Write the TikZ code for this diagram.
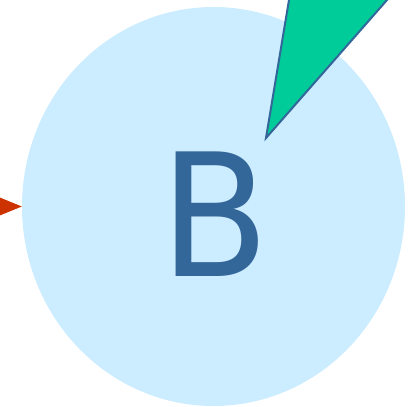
\documentclass[tikz,border=0pt]{standalone}
\usepackage{fontspec}
\setmainfont{DejaVu Sans}
\usetikzlibrary{shapes.geometric,positioning,calc}
\definecolor{bubbleblue}{RGB}{204,236,255}
\definecolor{letterblue}{RGB}{51,102,153}
\definecolor{pointgreen}{RGB}{0,204,153}
\definecolor{arrowred}{RGB}{204,51,0}

\begin{document}
\begin{tikzpicture}[
        x=1pt, y=1pt,
        bubble/.style={ellipse, fill=bubbleblue, inner sep=0pt, minimum width=383pt, minimum height=399pt},
        letter/.style={inner sep=0pt, text=letterblue, xscale=0.93, font=\fontsize{171}{171}\selectfont},
        pointer/.style={fill=pointgreen, draw=letterblue, line width=2pt, line join=miter}
    ]
        \useasboundingbox (0,0) rectangle (410,407);

        % Bubble and letter
        \node[bubble] (B) at (213.5,200.5) {};
        \node[letter] (Btext) at (215,192.5) {B};

        % Pointer
        \coordinate (tip) at (266,269);
        \filldraw[pointer] (tip) -- ($(tip)!1.2!(289,407)$) -- ($(tip)!1.2!(387,407)$) -- cycle;

        % Incoming arrowhead
        \fill[arrowred] (B.west) -- ++(-22,9) -- ++(0,-18) -- cycle;
    \end{tikzpicture}
\end{document}
